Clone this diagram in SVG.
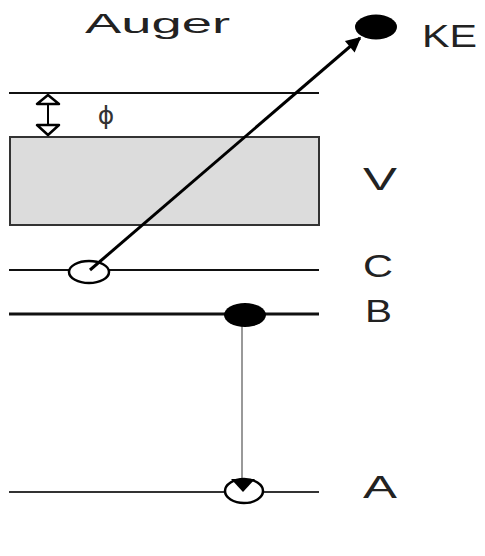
<svg xmlns="http://www.w3.org/2000/svg" width="485" height="556" viewBox="0 0 485 556">
<style>
.lvl{stroke:#111;stroke-width:2;fill:none}
.lbl{font-family:"Liberation Sans",Arial,sans-serif;font-size:31px;fill:#222}
.hollow{fill:#fff;stroke:#000;stroke-width:2.5}
.solid{fill:#000;stroke:none}
</style>
<defs>
<marker id="ah" viewBox="0 0 10 10" refX="9" refY="5" markerWidth="20" markerHeight="15" markerUnits="userSpaceOnUse" orient="auto" overflow="visible">
<path d="M0,0 L10,5 L0,10 Z" fill="#000"/>
</marker>
</defs>
<rect width="485" height="556" fill="#fff"/>
<g id="title"><text class="lbl" x="85" y="33" style="font-size:28px" textLength="145" lengthAdjust="spacingAndGlyphs">Auger</text></g>
<g id="vacuum"><line class="lvl" x1="9" y1="93" x2="319" y2="93"/></g>
<g id="valence">
<rect x="10" y="137" width="309" height="88" fill="#dcdcdc" stroke="#333" stroke-width="2"/>
<text class="lbl" x="363" y="190" textLength="34" lengthAdjust="spacingAndGlyphs">V</text>
</g>
<g id="phi">
<line x1="48" y1="104" x2="48" y2="125" stroke="#000" stroke-width="2"/>
<polygon points="48,95 37,104 59,104" fill="#fff" stroke="#000" stroke-width="2.5" stroke-linejoin="round"/>
<polygon points="37,125 59,125 48,135" fill="#fff" stroke="#000" stroke-width="2.5" stroke-linejoin="round"/>
<text x="106" y="124" text-anchor="middle" font-family="DejaVu Sans,sans-serif" font-size="25" fill="#333">ϕ</text>
</g>
<g id="levelC">
<line class="lvl" x1="9" y1="270" x2="319" y2="270"/>
<text class="lbl" x="363" y="277" textLength="30" lengthAdjust="spacingAndGlyphs">C</text>
</g>
<g id="levelB">
<line class="lvl" x1="9" y1="314" x2="319" y2="314" style="stroke-width:3"/>
<text class="lbl" x="365" y="322" textLength="27" lengthAdjust="spacingAndGlyphs">B</text>
</g>
<g id="levelA">
<line class="lvl" x1="9" y1="492" x2="319" y2="492" style="stroke:#333"/>
<text class="lbl" x="363" y="498" textLength="34" lengthAdjust="spacingAndGlyphs">A</text>
</g>
<g id="holeC"><ellipse class="hollow" cx="89" cy="272" rx="20" ry="11"/></g>
<g id="connectors">
<line x1="242" y1="326" x2="242" y2="480" stroke="#999" stroke-width="2"/>
<line x1="90" y1="270" x2="360" y2="38" stroke="#000" stroke-width="3" marker-end="url(#ah)"/>
</g>
<g id="electronB"><ellipse class="solid" cx="245" cy="315" rx="21" ry="12"/></g>
<g id="holeA">
<ellipse class="hollow" cx="244" cy="491" rx="19" ry="12"/>
<polygon points="231,479 255,479 243,492" fill="#000"/>
</g>
<g id="electronKE">
<ellipse class="solid" cx="376" cy="27" rx="21" ry="12.5"/>
<text class="lbl" x="422" y="47" textLength="55" lengthAdjust="spacingAndGlyphs">KE</text>
</g>
</svg>
